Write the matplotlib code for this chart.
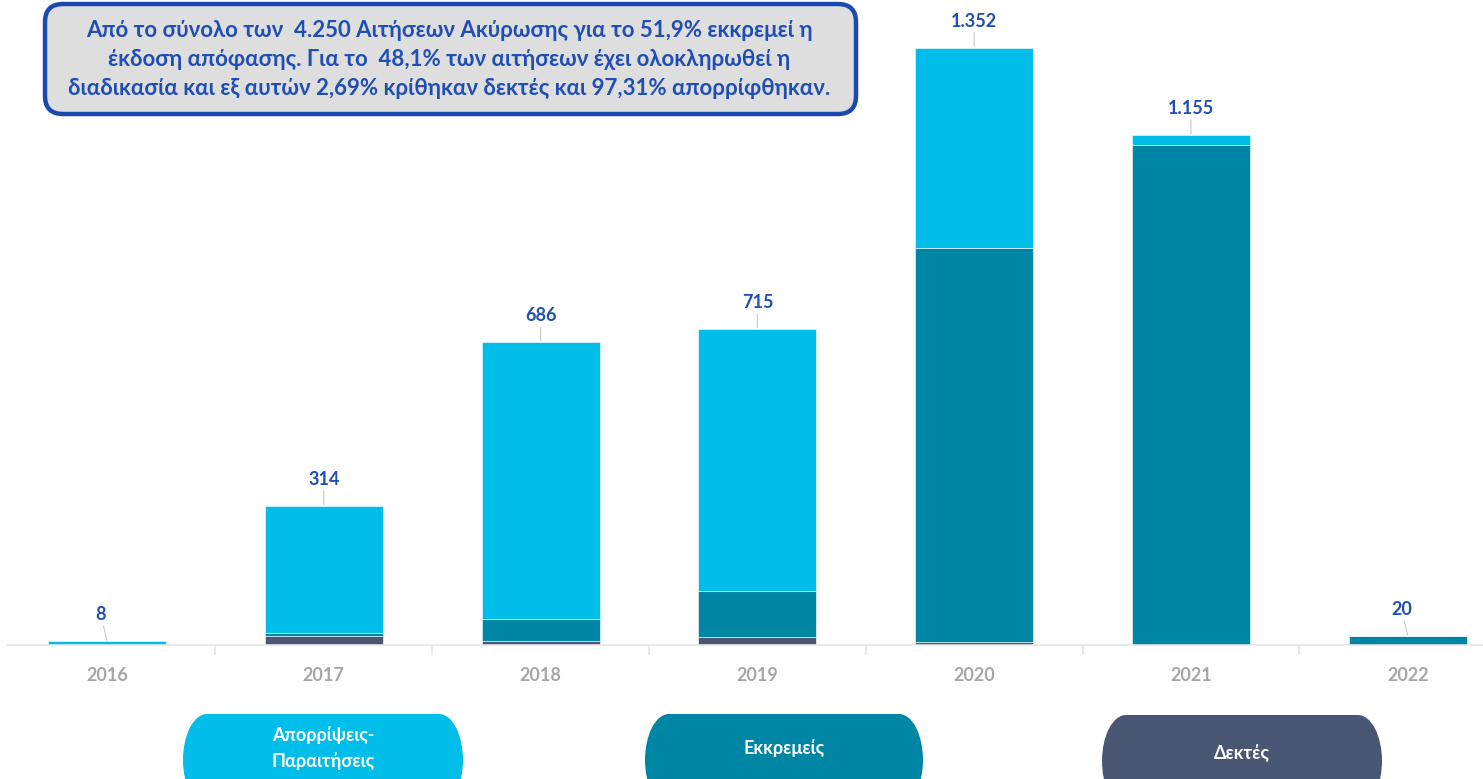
import numpy as np
import matplotlib.pyplot as plt
from matplotlib.patches import FancyBboxPatch, Ellipse, Rectangle

plt.rcParams['font.family'] = ['Lato', 'DejaVu Sans']

years = ['2016', '2017', '2018', '2019', '2020', '2021', '2022']
dektes = [1, 20, 10, 17, 7, 0, 0]
ekkremeis = [0, 8, 48, 106, 892, 1132, 20]
aporripseis = [7, 286, 628, 592, 453, 23, 0]
totals = [8, 314, 686, 715, 1352, 1155, 20]
total_labels = ['8', '314', '686', '715', '1.352', '1.155', '20']

c_cyan = '#00bde9'
c_teal = '#0086a5'
c_slate = '#4a5774'
c_blue = '#1f4eb4'

fig = plt.figure(figsize=(14.83, 7.79), dpi=100)
ax = fig.add_axes([0, 1 - 645 / 779, 1, 645 / 779])

x = np.arange(len(years))
w = 0.545
d = np.array(dektes)
e = np.array(ekkremeis)
a = np.array(aporripseis)
ax.bar(x, d, w, color=c_slate, edgecolor='white', linewidth=0.4)
ax.bar(x, e, w, bottom=d, color=c_teal, edgecolor='white', linewidth=0.4)
ax.bar(x, a, w, bottom=d + e, color=c_cyan, edgecolor='white', linewidth=0.4)

ax.set_xlim(-107 / 216.8, (1483 - 107) / 216.8)
ax.set_ylim(0, 645 / 0.4416)

for xi, t, lab in zip(x, totals, total_labels):
    ax.annotate(lab, xy=(xi, t), xytext=(-6 if t < 50 else 0, 18),
                textcoords='offset pixels', ha='center', va='bottom',
                fontsize=13, fontweight='bold', color=c_blue,
                arrowprops=dict(arrowstyle='-', color='#c8c8c8', lw=0.8,
                                shrinkA=0, shrinkB=1))

for s in ['top', 'right', 'left']:
    ax.spines[s].set_visible(False)
ax.spines['bottom'].set_color('#e6e6e6')
ax.spines['bottom'].set_linewidth(1.2)
ax.spines['bottom'].set_bounds(-0.457, 6.35)
ax.set_yticks([])
ax.set_xticks(x)
ax.set_xticklabels(years, fontsize=13, fontweight='bold', color='#a6a6a6')
ax.tick_params(axis='x', which='major', length=0, pad=16)
ax.set_xticks(x[:-1] + 0.5, minor=True)
ax.tick_params(axis='x', which='minor', length=7, color='#e6e6e6', width=1.2)

# overlay in pixel coordinates
ov = fig.add_axes([0, 0, 1, 1])
ov.set_xlim(0, 1483)
ov.set_ylim(779, 0)
ov.axis('off')
ov.patch.set_alpha(0)

box = FancyBboxPatch((45, 4), 811, 110, boxstyle='round,pad=0,rounding_size=18',
                     facecolor='#dedede', edgecolor='#1a4ab0', linewidth=3.2)
ov.add_patch(box)
lines = ['Από το σύνολο των  4.250 Αιτήσεων Ακύρωσης για το 51,9% εκκρεμεί η',
         'έκδοση απόφασης. Για το  48,1% των αιτήσεων έχει ολοκληρωθεί η',
         'διαδικασία και εξ αυτών 2,69% κρίθηκαν δεκτές και 97,31% απορρίφθηκαν.']
for i, ln in enumerate(lines):
    ov.text(449, 30 + i * 29, ln, ha='center', va='center', fontsize=16,
            fontweight='bold', color=c_blue)

# legend pills (half-ellipse ends)
pills = [(183, 463, 714, c_cyan, 'Απορρίψεις-\nΠαραιτήσεις', 748),
         (645, 923, 714, c_teal, 'Εκκρεμείς', 748),
         (1102, 1382, 715, c_slate, 'Δεκτές', 752)]
rx, ry = 24, 46
for x0, x1, y0, col, txt, ty in pills:
    ov.add_patch(Rectangle((x0 + rx, y0), x1 - x0 - 2 * rx, 2 * ry,
                           facecolor=col, edgecolor='none'))
    ov.add_patch(Ellipse((x0 + rx, y0 + ry), 2 * rx, 2 * ry,
                         facecolor=col, edgecolor='none'))
    ov.add_patch(Ellipse((x1 - rx, y0 + ry), 2 * rx, 2 * ry,
                         facecolor=col, edgecolor='none'))
    ov.text((x0 + x1) / 2, ty, txt, ha='center', va='center', fontsize=13,
            fontweight='bold', color='white', linespacing=1.55)

fig.savefig('out.png', dpi=100)
